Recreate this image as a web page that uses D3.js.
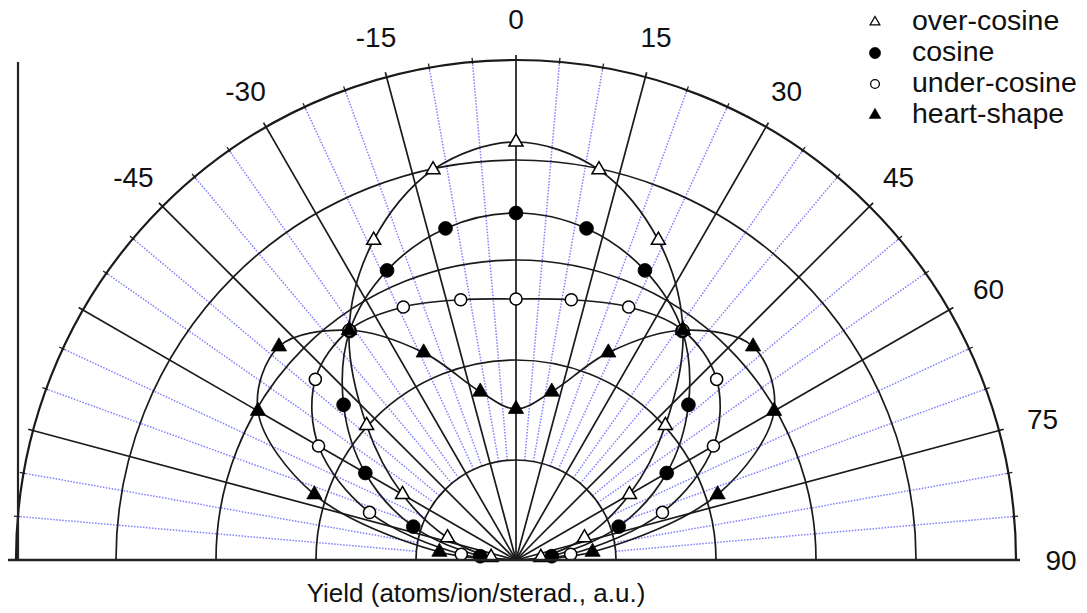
<!DOCTYPE html>
<html>
<head>
<meta charset="utf-8">
<script src="https://cdn.jsdelivr.net/npm/d3@7"></script>
<style>
  body { margin: 0; background: #fff; }
  svg { display: block; font-family: "Liberation Sans", Arial, sans-serif; }
</style>
</head>
<body>
<svg id="chart" width="1087" height="613"></svg>
<script>
// emission angles (deg) where the markers sit
const angles = [-84, -72, -60, -48, -36, -24, -12, 0, 12, 24, 36, 48, 60, 72, 84]

const overCosine  = [0.25, 0.72, 1.31, 2.01, 2.84, 3.50, 3.99, 4.18, 3.99, 3.50, 2.84, 2.01, 1.31, 0.72, 0.25]
const cosine      = [0.36, 1.08, 1.74, 2.32, 2.83, 3.17, 3.39, 3.47, 3.39, 3.17, 2.83, 2.32, 1.74, 1.08, 0.36]
const underCosine = [0.55, 1.54, 2.28, 2.70, 2.84, 2.77, 2.66, 2.61, 2.66, 2.77, 2.84, 2.70, 2.28, 1.54, 0.55]
const heartShape  = [0.77, 2.12, 2.98, 3.19, 2.84, 2.27, 1.72, 1.51, 1.72, 2.27, 2.84, 3.19, 2.98, 2.12, 0.77]

const ringValues = [1, 2, 3, 4, 5]
const tickLabels = [-45, -30, -15, 0, 15, 30, 45, 60, 75, 90]
const legendNames = ["over-cosine", "cosine", "under-cosine", "heart-shape"]

const cx = 516, cy = 560
const rad = d => d * Math.PI / 180

const svg = d3.select("#chart")
const rScale = d3.scaleLinear().domain([0, 5]).range([0, 500])
const R = rScale(5)

const g = svg.append("g").attr("transform", `translate(${cx},${cy})`)

function polar(deg, r) {
    return [r * Math.sin(rad(deg)), -r * Math.cos(rad(deg))]
}

// blue dotted spokes every 5 deg (outside the first ring)
const fineAngles = d3.range(-85, 90, 5).filter(a => a % 15 !== 0)
fineAngles.forEach(a => {
    const p0 = polar(a, rScale(1)), p1 = polar(a, R)
    g.append("line")
      .attr("x1", p0[0]).attr("y1", p0[1])
      .attr("x2", p1[0]).attr("y2", p1[1])
      .attr("stroke", "#7f7fff")
      .attr("stroke-width", 1.5)
      .attr("stroke-dasharray", "1.5,1.5")
})

// small ticks on the outer ring
fineAngles.forEach(a => {
    const p0 = polar(a, R - 2), p1 = polar(a, R + 4)
    g.append("line")
      .attr("x1", p0[0]).attr("y1", p0[1])
      .attr("x2", p1[0]).attr("y2", p1[1])
      .attr("stroke", "#222")
      .attr("stroke-width", 1.3)
})

// rings
ringValues.forEach(v => {
    const p = d3.path()
    p.arc(0, 0, rScale(v), -Math.PI, 0)
    g.append("path")
      .attr("d", p.toString())
      .attr("fill", "none")
      .attr("stroke", "#1a1a1a")
      .attr("stroke-width", v === 5 ? 2.2 : 1.7)
})

// black spokes every 15 deg
d3.range(-75, 90, 15).forEach(a => {
    const p1 = polar(a, R + 5)
    g.append("line")
      .attr("x1", 0).attr("y1", 0)
      .attr("x2", p1[0]).attr("y2", p1[1])
      .attr("stroke", "#1a1a1a")
      .attr("stroke-width", 1.7)
})

// base line and left frame line
svg.append("line")
  .attr("x1", 8).attr("y1", cy).attr("x2", 1020).attr("y2", cy)
  .attr("stroke", "#222").attr("stroke-width", 2.4)
svg.append("line")
  .attr("x1", cx - R + 2).attr("y1", cy - R + 2).attr("x2", cx - R + 2).attr("y2", cy)
  .attr("stroke", "#222").attr("stroke-width", 2.2)

// angle labels
tickLabels.forEach(a => {
    const p = polar(a, 541)
    svg.append("text")
      .attr("x", cx + p[0] + (a >= 60 ? 4 : 0))
      .attr("y", cy + p[1])
      .attr("text-anchor", "middle")
      .attr("dominant-baseline", "central")
      .attr("font-size", "28px")
      .attr("fill", "#111")
      .text(a)
})

// series curves
const series = [
    { name: "over-cosine", values: overCosine, shape: d3.symbolTriangle, size: 85, filled: false },
    { name: "cosine", values: cosine, shape: d3.symbolCircle, size: 150, filled: true },
    { name: "under-cosine", values: underCosine, shape: d3.symbolCircle, size: 115, filled: false },
    { name: "heart-shape", values: heartShape, shape: d3.symbolTriangle, size: 100, filled: true }
]

const radialLine = d3.lineRadial()
    .angle(d => rad(d.a))
    .radius(d => rScale(d.v))
    .curve(d3.curveCatmullRom.alpha(0.5))

series.forEach(s => {
    const pts = angles.map((a, i) => ({ a: a, v: s.values[i] }))
    const linePts = [{ a: -90, v: 0 }].concat(pts, [{ a: 90, v: 0 }])
    g.append("path")
      .datum(linePts)
      .attr("d", radialLine)
      .attr("fill", "none")
      .attr("stroke", "#1a1a1a")
      .attr("stroke-width", 1.7)
})

series.forEach(s => {
    const pts = angles.map((a, i) => ({ a: a, v: s.values[i] }))
    g.selectAll(null)
      .data(pts)
      .enter().append("path")
      .attr("transform", d => {
          const p = polar(d.a, rScale(d.v))
          return `translate(${p[0]},${p[1]})`
      })
      .attr("d", d3.symbol().type(s.shape).size(s.size))
      .attr("fill", s.filled ? "#000" : "#fff")
      .attr("stroke", "#000")
      .attr("stroke-width", s.filled ? 0.8 : 1.5)
})

// legend
const legendSizes = [40, 100, 60, 60]
const legend = svg.append("g").attr("transform", "translate(875,22)")
series.forEach((s, i) => {
    legend.append("path")
      .attr("transform", `translate(0,${i * 31})`)
      .attr("d", d3.symbol().type(s.shape).size(legendSizes[i]))
      .attr("fill", s.filled ? "#000" : "#fff")
      .attr("stroke", "#000")
      .attr("stroke-width", s.filled ? 0.5 : 1.3)

    legend.append("text")
      .attr("x", 37)
      .attr("y", i * 31 + 8)
      .attr("font-size", "28.5px")
      .attr("fill", "#111")
      .text(legendNames[i])
})

// radial axis title
svg.append("text")
  .attr("x", 476)
  .attr("y", 602)
  .attr("text-anchor", "middle")
  .attr("font-size", "26px")
  .attr("fill", "#111")
  .text("Yield (atoms/ion/sterad., a.u.)")
</script>
</body>
</html>
